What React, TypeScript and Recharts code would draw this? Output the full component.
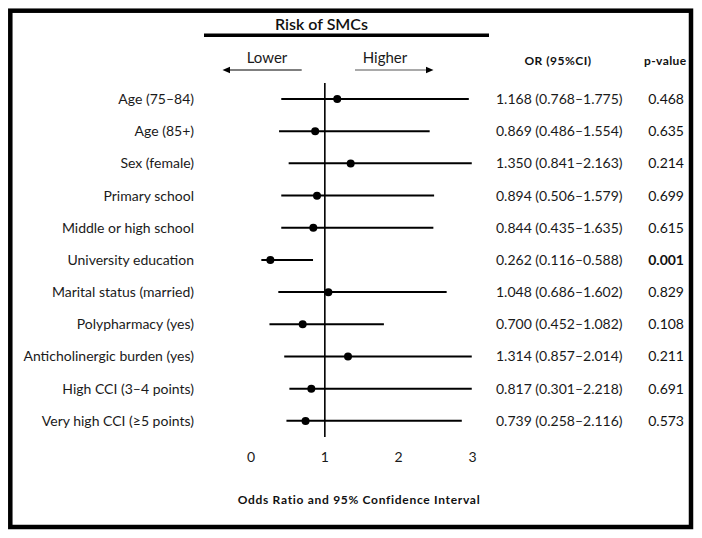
import React from "react";
import { ComposedChart, Bar, Line, XAxis, YAxis, ReferenceLine } from "recharts";

const labels = [
  "Age (75–84)",
  "Age (85+)",
  "Sex (female)",
  "Primary school",
  "Middle or high school",
  "University education",
  "Marital status (married)",
  "Polypharmacy (yes)",
  "Anticholinergic burden (yes)",
  "High CCI (3–4 points)",
  "Very high CCI (≥5 points)",
];
const oddsRatios = [1.168, 0.869, 1.35, 0.894, 0.844, 0.262, 1.048, 0.7, 1.314, 0.817, 0.739];
// whisker extents as drawn in the figure
const lineLow = [0.41, 0.38, 0.51, 0.41, 0.41, 0.14, 0.37, 0.25, 0.45, 0.52, 0.48];
const lineHigh = [2.95, 2.42, 2.99, 2.48, 2.47, 0.84, 2.65, 1.8, 2.99, 2.99, 2.855];
const orText = [
  "1.168 (0.768–1.775)",
  "0.869 (0.486–1.554)",
  "1.350 (0.841–2.163)",
  "0.894 (0.506–1.579)",
  "0.844 (0.435–1.635)",
  "0.262 (0.116–0.588)",
  "1.048 (0.686–1.602)",
  "0.700 (0.452–1.082)",
  "1.314 (0.857–2.014)",
  "0.817 (0.301–2.218)",
  "0.739 (0.258–2.116)",
];
const pText = ["0.468", "0.635", "0.214", "0.699", "0.615", "0.001", "0.829", "0.108", "0.211", "0.691", "0.573"];
const boldP = ["0.001"];
const xTicks = [0, 1, 2, 3];

const data = labels.map((label, i) => ({
  label,
  or: oddsRatios[i],
  range: [lineLow[i], lineHigh[i]],
  orText: orText[i],
  p: pText[i],
}));

const FONT = "Lato, 'Open Sans', sans-serif";

const RowTick = (props: any) => {
  const { x, y, payload, index } = props;
  const row = data[index] || data.find((d) => d.label === payload.value);
  return (
    <g>
      <text x={x} y={y} dy="0.35em" textAnchor="end" fontSize={14} fill="#1a1a1a" fontFamily={FONT}>
        {payload.value}
      </text>
      {row && (
        <text x={496} y={y} dy="0.35em" textAnchor="start" fontSize={14} fill="#1a1a1a" fontFamily={FONT}>
          {row.orText}
        </text>
      )}
      {row && (
        <text
          x={684}
          y={y}
          dy="0.35em"
          textAnchor="end"
          fontSize={14}
          fill="#111"
          fontWeight={boldP.includes(row.p) ? 700 : 400}
          fontFamily={FONT}
        >
          {row.p}
        </text>
      )}
    </g>
  );
};

export default function App() {
  return (
    <div style={{ position: "absolute", left: 0, top: 0, width: 702, height: 538, background: "#fff" }}>
      <ComposedChart
        width={702}
        height={538}
        data={data}
        layout="vertical"
        margin={{ top: 83, right: 229.5, bottom: 0, left: 0 }}
      >
        <XAxis
          type="number"
          domain={[0, 3]}
          ticks={xTicks}
          axisLine={false}
          tickLine={false}
          tickMargin={9}
          height={101}
          tick={{ fontSize: 14, fill: "#1a1a1a", fontFamily: FONT }}
          interval={0}
        />
        <YAxis
          type="category"
          dataKey="label"
          width={251}
          axisLine={false}
          tickLine={false}
          tickMargin={51}
          interval={0}
          tick={<RowTick />}
        />
        <ReferenceLine x={1} stroke="#000" strokeWidth={1.6} />
        <Bar dataKey="range" barSize={2} fill="#000" isAnimationActive={false} />
        <Line
          dataKey="or"
          stroke="none"
          dot={{ r: 4, fill: "#000", stroke: "none" }}
          activeDot={false}
          isAnimationActive={false}
        />
        {/* frame */}
        <rect x={10.3} y={10.7} width={680.7} height={516.3} fill="none" stroke="#000" strokeWidth={4.5} />
        {/* header */}
        <text x={321.5} y={24} dy="0.35em" textAnchor="middle" fontSize={16} fontWeight={600} fill="#111" fontFamily={FONT}>
          Risk of SMCs
        </text>
        <line x1={204} x2={489} y1={35.3} y2={35.3} stroke="#000" strokeWidth={3.5} />
        <text x={267} y={57.5} dy="0.35em" textAnchor="middle" fontSize={15} fill="#1a1a1a" fontFamily={FONT}>
          Lower
        </text>
        <text x={385} y={57.5} dy="0.35em" textAnchor="middle" fontSize={15} fill="#1a1a1a" fontFamily={FONT}>
          Higher
        </text>
        <line x1={228} x2={301.7} y1={70} y2={70} stroke="#000" strokeWidth={1.2} />
        <path d="M222.5,70 L230,66.8 L230,73.2 Z" fill="#000" />
        <line x1={355} x2={427} y1={70} y2={70} stroke="#555" strokeWidth={1.2} />
        <path d="M433.5,70 L426,66.8 L426,73.2 Z" fill="#000" />
        <text x={558} y={60.5} dy="0.35em" textAnchor="middle" fontSize={12} letterSpacing={0.5} fontWeight={700} fill="#111" fontFamily={FONT}>
          OR (95%CI)
        </text>
        <text x={686.5} y={60.5} dy="0.35em" textAnchor="end" fontSize={12} letterSpacing={0.4} fontWeight={700} fill="#111" fontFamily={FONT}>
          p-value
        </text>
        <text x={359} y={500} dy="0.35em" textAnchor="middle" fontSize={12} letterSpacing={0.7} fontWeight={700} fill="#111" fontFamily={FONT}>
          Odds Ratio and 95% Confidence Interval
        </text>
      </ComposedChart>
    </div>
  );
}
